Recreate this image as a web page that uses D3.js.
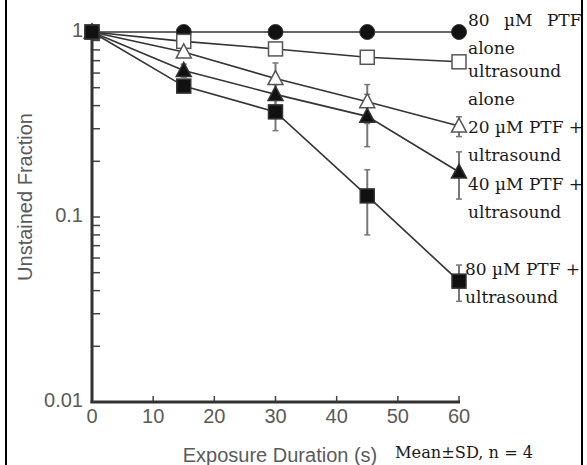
<!DOCTYPE html>
<html>
<head>
<meta charset="utf-8">
<script src="https://cdn.jsdelivr.net/npm/d3@7"></script>
<style>
  html, body { margin: 0; padding: 0; background: #fff; }
  svg { display: block; }
  .tick-label { font-family: "Liberation Sans", Arial, sans-serif; font-size: 20px; fill: #5a5a5a; }
  .axis-title { font-family: "Liberation Sans", Arial, sans-serif; font-size: 20px; fill: #5a5a5a; }
  .legend { font-family: "DejaVu Serif", serif; font-size: 17px; fill: #1a1a1a; }
</style>
</head>
<body>
<div id="chart"></div>
<script>
// exposure times (s)
var times = [0, 15, 30, 45, 60];

// unstained fraction per series (mean) and SD
var ptfAlone  = [1, 1, 1, 1, 1];
var ptfAloneSd = [0, 0, 0, 0, 0];
var usAlone   = [1, 0.89, 0.81, 0.73, 0.69];
var usAloneSd = [0, 0, 0, 0, 0];
var ptf20     = [1, 0.78, 0.56, 0.42, 0.31];
var ptf20Sd   = [0, 0.03, 0.12, 0.1, 0.038];
var ptf40     = [1, 0.62, 0.46, 0.35, 0.175];
var ptf40Sd   = [0, 0.05, 0.06, 0.11, 0.05];
var ptf80     = [1, 0.51, 0.37, 0.13, 0.045];
var ptf80Sd   = [0, 0.03, 0.077, 0.05, 0.01];

var xTicks = [0, 10, 20, 30, 40, 50, 60];
var yTicks = [0.01, 0.1, 1];
var yTickLabels = ['0.01', '0.1', '1'];

// label lines written beside the curves
var labelLines = [
  ['80 \u00b5M PTF', 'alone'],
  ['ultrasound', 'alone'],
  ['20 \u00b5M PTF +', 'ultrasound'],
  ['40 \u00b5M PTF +', 'ultrasound'],
  ['80 \u00b5M PTF +', 'ultrasound']
];
var footnote = 'Mean\u00b1SD, n = 4';

var width = 587, height = 465;
var svg = d3.select('#chart').append('svg')
    .attr('width', width)
    .attr('height', height);

var x = d3.scaleLinear().domain([0, 60]).range([92, 459]);
var y = d3.scaleLog().domain([0.01, 1]).range([402, 32]);

var series = [
  {v: ptfAlone, sd: ptfAloneSd, shape: 'circle', fill: '#111'},
  {v: usAlone,  sd: usAloneSd,  shape: 'square', fill: '#fff'},
  {v: ptf20,    sd: ptf20Sd,    shape: 'triangle', fill: '#fff'},
  {v: ptf40,    sd: ptf40Sd,    shape: 'triangle', fill: '#111'},
  {v: ptf80,    sd: ptf80Sd,    shape: 'square', fill: '#111'}
];

// y minor ticks (inside)
var minor = [];
[0.01, 0.1].forEach(function(base) {
  for (var k = 1; k <= 9; k++) minor.push(base * k);
});
minor.push(1);
svg.selectAll('.ytick')
  .data(minor)
  .enter().append('line')
  .attr('x1', x(0)).attr('x2', x(0) + 8)
  .attr('y1', function(d) { return y(d); })
  .attr('y2', function(d) { return y(d); })
  .attr('stroke', '#444').attr('stroke-width', 1.5);

svg.selectAll('.xtick')
  .data(xTicks.slice(1))
  .enter().append('line')
  .attr('x1', function(d) { return x(d); })
  .attr('x2', function(d) { return x(d); })
  .attr('y1', y(0.01)).attr('y2', y(0.01) - 6)
  .attr('stroke', '#444').attr('stroke-width', 1.5);

// axes
svg.append('line')
  .attr('x1', x(0)).attr('x2', x(0))
  .attr('y1', y(1)).attr('y2', y(0.01) + 1)
  .attr('stroke', '#333').attr('stroke-width', 3);
svg.append('line')
  .attr('x1', x(0) - 1.5).attr('x2', x(60) + 1)
  .attr('y1', y(0.01)).attr('y2', y(0.01))
  .attr('stroke', '#333').attr('stroke-width', 3);

svg.selectAll('.xlab')
  .data(xTicks)
  .enter().append('text')
  .attr('class', 'tick-label')
  .attr('x', function(d) { return x(d); })
  .attr('y', 423)
  .attr('text-anchor', 'middle')
  .text(function(d) { return d; });

svg.selectAll('.ylab')
  .data(yTicks)
  .enter().append('text')
  .attr('class', 'tick-label')
  .attr('x', 83)
  .attr('y', function(d, i) { return y(d) + 5; })
  .attr('text-anchor', 'end')
  .text(function(d, i) { return yTickLabels[i]; });

svg.append('text')
  .attr('class', 'axis-title')
  .attr('x', 280).attr('y', 462)
  .attr('text-anchor', 'middle')
  .text('Exposure Duration (s)');

svg.append('text')
  .attr('class', 'axis-title')
  .attr('transform', 'translate(32,197) rotate(-90)')
  .attr('text-anchor', 'middle')
  .text('Unstained Fraction');

// lines
var line = d3.line()
  .x(function(d, i) { return x(times[i]); })
  .y(function(d) { return y(d); });

series.forEach(function(s) {
  svg.append('path')
    .attr('d', line(s.v))
    .attr('fill', 'none')
    .attr('stroke', '#333')
    .attr('stroke-width', 1.6);
});

// error bars
series.forEach(function(s) {
  var g = svg.append('g');
  s.v.forEach(function(v, i) {
    if (!s.sd[i]) return;
    var cx = x(times[i]);
    var hi = y(v + s.sd[i]), lo = y(Math.max(v - s.sd[i], 0.011));
    g.append('line').attr('x1', cx).attr('x2', cx).attr('y1', hi).attr('y2', lo)
      .attr('stroke', '#777').attr('stroke-width', 2);
    [hi, lo].forEach(function(yy) {
      g.append('line').attr('x1', cx - 3).attr('x2', cx + 3).attr('y1', yy).attr('y2', yy)
        .attr('stroke', '#777').attr('stroke-width', 1.5);
    });
  });
});

// markers
series.forEach(function(s) {
  var g = svg.append('g');
  s.v.forEach(function(v, i) {
    var cx = x(times[i]), cy = y(v);
    if (s.shape === 'circle') {
      g.append('circle').attr('cx', cx).attr('cy', cy).attr('r', 7.5)
        .attr('fill', s.fill).attr('stroke', '#333').attr('stroke-width', 1);
    } else if (s.shape === 'square') {
      g.append('rect').attr('x', cx - 7).attr('y', cy - 7)
        .attr('width', 14).attr('height', 14)
        .attr('fill', s.fill).attr('stroke', s.fill === '#fff' ? '#555' : '#333')
        .attr('stroke-width', 1.5);
    } else {
      g.append('path')
        .attr('d', 'M' + cx + ',' + (cy - 8) + 'L' + (cx + 7.5) + ',' + (cy + 6) + 'L' + (cx - 7.5) + ',' + (cy + 6) + 'Z')
        .attr('fill', s.fill).attr('stroke', s.fill === '#fff' ? '#555' : '#333')
        .attr('stroke-width', 1.5);
    }
  });
});

// curve labels
var labelTop = [26, 77, 133, 190, 275];
var labelX = [468, 468, 468, 468, 465];
labelLines.forEach(function(lines, b) {
  lines.forEach(function(t, j) {
    var txt = svg.append('text')
      .attr('class', 'legend')
      .attr('x', labelX[b])
      .attr('y', labelTop[b] + j * 27.5)
      .text(t);
    if (b === 0 && j === 0) txt.attr('word-spacing', 9);
  });
});

svg.append('text')
  .attr('class', 'legend')
  .style('font-size', '16.2px')
  .attr('x', 395).attr('y', 458)
  .text(footnote);

// frame
svg.append('line').attr('x1', 6).attr('x2', 6).attr('y1', 0).attr('y2', height)
  .attr('stroke', '#000').attr('stroke-width', 2);
svg.append('line').attr('x1', 582).attr('x2', 582).attr('y1', 0).attr('y2', height)
  .attr('stroke', '#000').attr('stroke-width', 2);
</script>
</body>
</html>
